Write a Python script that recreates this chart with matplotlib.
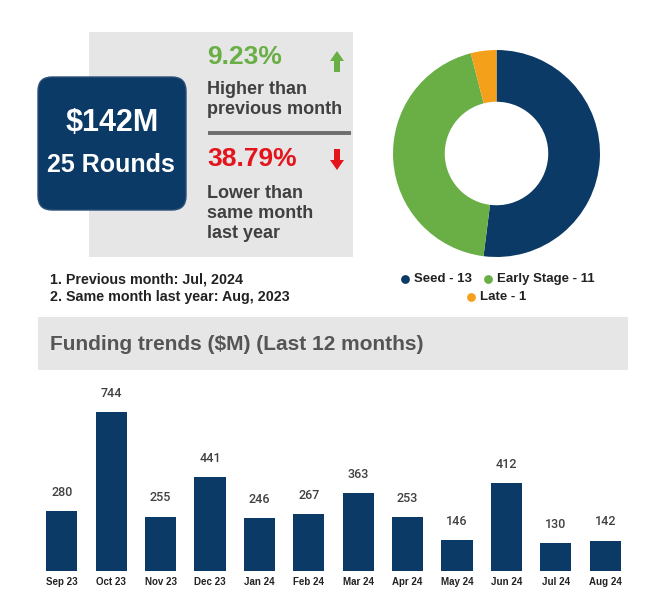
# funding snapshot dashboard

import matplotlib.pyplot as plt
from matplotlib.patches import FancyBboxPatch, Rectangle, FancyArrow

months = ['Sep 23', 'Oct 23', 'Nov 23', 'Dec 23', 'Jan 24', 'Feb 24',
          'Mar 24', 'Apr 24', 'May 24', 'Jun 24', 'Jul 24', 'Aug 24']
funding = [280, 744, 255, 441, 246, 267, 363, 253, 146, 412, 130, 142]

stages = ['Seed', 'Early Stage', 'Late']
rounds = [13, 11, 1]

total = '$142M'
total_rounds = 25
mom_change = 9.23
yoy_change = 38.79

NAVY = '#0b3a66'
GREEN = '#6aaf45'
ORANGE = '#f5a01a'
RED = '#e3141c'
DARK = '#404040'
stage_colors = [NAVY, GREEN, ORANGE]

plt.rcParams['font.family'] = ['Liberation Sans', 'DejaVu Sans']


def main():
    fig = plt.figure(figsize=(6.6, 5.99), dpi=100)
    W, H = 660, 599

    # background axes in pixel coords (origin top-left)
    bg = fig.add_axes([0, 0, 1, 1])
    bg.set_xlim(0, W)
    bg.set_ylim(H, 0)
    bg.axis('off')

    # grey KPI panel
    bg.add_patch(Rectangle((89, 32), 264, 225, color='#e6e6e6', lw=0))
    # navy total box
    bg.add_patch(FancyBboxPatch((38, 77), 148, 133,
                                boxstyle='round,pad=0,rounding_size=14',
                                fc=NAVY, ec='#2a4f78', lw=1))
    bg.text(112, 123, total, color='white', fontsize=22, fontweight='bold',
            ha='center', va='center')
    bg.text(111, 165, f'{total_rounds} Rounds', color='white', fontsize=18,
            fontweight='bold', ha='center', va='center')

    # month over month
    bg.text(207, 57, f'{mom_change:.2f}%', color=GREEN, fontsize=19,
            fontweight='bold', va='center')
    bg.add_patch(FancyArrow(337, 72, 0, -21, width=6, head_width=14,
                            head_length=10, length_includes_head=True,
                            color=GREEN, lw=0))
    bg.text(207, 90, 'Higher than', color=DARK, fontsize=13,
            fontweight='bold', va='center')
    bg.text(207, 110, 'previous month', color=DARK, fontsize=13,
            fontweight='bold', va='center')

    bg.plot([208, 351], [133, 133], color='#6d6d6d', lw=2.8,
            solid_capstyle='butt')

    # year over year
    bg.text(207, 159, f'{yoy_change:.2f}%', color=RED, fontsize=19,
            fontweight='bold', va='center')
    bg.add_patch(FancyArrow(337, 149, 0, 21, width=6, head_width=14,
                            head_length=10, length_includes_head=True,
                            color=RED, lw=0))
    for i, line in enumerate(['Lower than', 'same month', 'last year']):
        bg.text(207, 194 + i * 20, line, color=DARK, fontsize=13,
                fontweight='bold', va='center')

    # notes
    bg.text(50, 280, '1. Previous month: Jul, 2024', color='#222222',
            fontsize=10.3, fontweight='bold', va='center')
    bg.text(50, 297, '2. Same month last year: Aug, 2023', color='#222222',
            fontsize=10.3, fontweight='bold', va='center')

    # donut
    pie_ax = fig.add_axes([393 / W, (H - 257) / H, 207 / W, 207 / H])
    pie_ax.pie(rounds, colors=stage_colors, startangle=90, counterclock=False,
               wedgeprops=dict(width=0.5, lw=0))
    pie_ax.set_xlim(-1, 1)
    pie_ax.set_ylim(-1, 1)

    # donut legend
    legend_pos = [(405, 279), (488, 279), (471, 297)]
    for (x, y), name, n, c in zip(legend_pos, stages, rounds, stage_colors):
        bg.scatter(x, y, s=40, color=c, lw=0)
        bg.text(x + 9, y, f'{name} - {n}', color='#222222', fontsize=9.5,
                fontweight='bold', va='center')

    # trends title band
    bg.add_patch(Rectangle((38, 317), 590, 53, color='#e6e6e6', lw=0))
    bg.text(50, 344, 'Funding trends ($M) (Last 12 months)', color='#555555',
            fontsize=15, fontweight='bold', va='center')

    # bar chart
    ax = fig.add_axes([37 / W, (H - 571) / H, 593 / W, 191 / H])
    x = range(len(months))
    bars = ax.bar(x, funding, width=0.63, color=NAVY)
    for b, v in zip(bars, funding):
        ax.annotate(str(v), (b.get_x() + b.get_width() / 2, v),
                    xytext=(0, 13.5), textcoords='offset points',
                    ha='center', va='center', fontsize=9, color=DARK,
                    family='Roboto', fontweight='medium')
    ax.set_xlim(-0.5, 11.5)
    ax.set_ylim(0, 894)
    ax.set_xticks(list(x))
    ax.set_xticklabels(months, fontsize=7, fontweight='bold', color='#222222')
    ax.tick_params(length=0, pad=4)
    ax.set_yticks([])
    for s in ax.spines.values():
        s.set_visible(False)
    ax.patch.set_alpha(0)

    fig.savefig('out.png', dpi=100)


main()
